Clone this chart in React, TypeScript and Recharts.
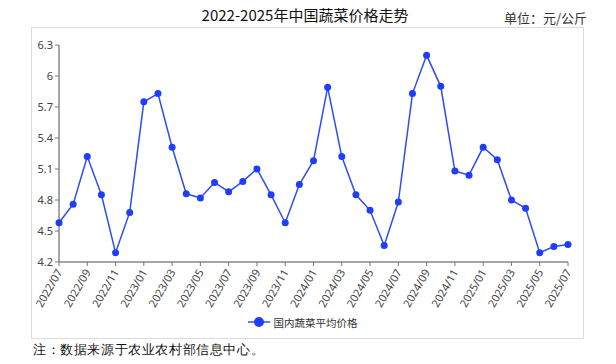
import { LineChart, Line, XAxis, YAxis, Legend } from "recharts";

// 月份（2022/07 - 2025/07）
const months = [
  "2022/07", "2022/08", "2022/09", "2022/10", "2022/11", "2022/12",
  "2023/01", "2023/02", "2023/03", "2023/04", "2023/05", "2023/06",
  "2023/07", "2023/08", "2023/09", "2023/10", "2023/11", "2023/12",
  "2024/01", "2024/02", "2024/03", "2024/04", "2024/05", "2024/06",
  "2024/07", "2024/08", "2024/09", "2024/10", "2024/11", "2024/12",
  "2025/01", "2025/02", "2025/03", "2025/04", "2025/05", "2025/06",
  "2025/07",
];

// 国内蔬菜平均价格（元/公斤）
const prices = [
  4.58, 4.76, 5.22, 4.85, 4.29, 4.68,
  5.75, 5.83, 5.31, 4.86, 4.82, 4.97,
  4.88, 4.98, 5.1, 4.85, 4.58, 4.95,
  5.18, 5.89, 5.22, 4.85, 4.7, 4.36,
  4.78, 5.83, 6.2, 5.9, 5.08, 5.04,
  5.31, 5.19, 4.8, 4.72, 4.29, 4.35,
  4.37,
];

const yTicks = [4.2, 4.5, 4.8, 5.1, 5.4, 5.7, 6, 6.3];

const seriesName = "国内蔬菜平均价格";
const LINE = "#2e4cf6";
const DOT = "#1f3dff";

const data = months.map((m, i) => ({ month: m, price: prices[i] }));

const XTick = ({ x, y, payload }: any) => (
  <g transform={`translate(${x},${y + 3})`}>
    <text
      x={0}
      y={0}
      dx={1}
      dy="0.35em"
      textAnchor="end"
      transform="rotate(-60)"
      fontSize={11}
      fill="#444"
      fontFamily="'Noto Sans', sans-serif"
    >
      {payload.value}
    </text>
  </g>
);

const LegendContent = () => (
  <div style={{ display: "flex", justifyContent: "center", alignItems: "center", height: 20, paddingLeft: 8 }}>
    <svg width={22} height={12} style={{ marginRight: 4 }}>
      <line x1={0} y1={6} x2={22} y2={6} stroke={LINE} strokeWidth={1.5} />
      <circle cx={11} cy={6} r={5} fill={DOT} />
    </svg>
    <span style={{ fontSize: 10.5, color: "#333", fontFamily: "'Noto Sans CJK SC', sans-serif" }}>
      {seriesName}
    </span>
  </div>
);

export default function App() {
  return (
    <div
      style={{
        position: "absolute",
        left: 0,
        top: 0,
        width: 616,
        height: 364,
        background: "#fff",
        fontFamily: "'Noto Sans CJK SC', sans-serif",
      }}
    >
      <div
        style={{
          position: "absolute",
          left: 0,
          width: 610,
          top: 4,
          textAlign: "center",
          fontSize: 15,
          color: "#111",
        }}
      >
        2022-2025年中国蔬菜价格走势
      </div>
      <div style={{ position: "absolute", right: 29, top: 8, fontSize: 13, color: "#333" }}>
        单位：元/公斤
      </div>
      <div
        style={{
          position: "absolute",
          left: 31,
          top: 27,
          width: 551,
          height: 310,
          border: "1px solid #dcdcdc",
        }}
      />
      <div style={{ position: "absolute", left: 0, top: 0 }}>
        <LineChart
          width={616}
          height={364}
          data={data}
          margin={{ top: 45, right: 48, left: 29, bottom: 32 }}
        >
          <XAxis
            dataKey="month"
            interval={1}
            tick={<XTick />}
            tickLine={{ stroke: "#777" }}
            axisLine={{ stroke: "#888", strokeWidth: 1.5 }}
            tickSize={4}
            height={50}
            padding={{ left: 0, right: 0 }}
          />
          <YAxis
            domain={[4.2, 6.3]}
            ticks={yTicks}
            width={30}
            tickSize={4}
            tick={{ fontSize: 11, fill: "#444", fontFamily: "'Noto Sans', sans-serif" }}
            tickLine={{ stroke: "#777" }}
            axisLine={{ stroke: "#888", strokeWidth: 1.5 }}
            allowDataOverflow
          />
          <Legend verticalAlign="bottom" content={<LegendContent />} />
          <Line
            type="linear"
            dataKey="price"
            name={seriesName}
            stroke={LINE}
            strokeWidth={1.5}
            dot={{ r: 3.5, fill: DOT, stroke: DOT, strokeWidth: 0 }}
            activeDot={false}
            isAnimationActive={false}
          />
        </LineChart>
      </div>
      <div
        style={{
          position: "absolute",
          left: 33,
          top: 341,
          fontSize: 13,
          letterSpacing: 0.6,
          color: "#111",
          fontFamily: "serif",
        }}
      >
        注：数据来源于农业农村部信息中心。
      </div>
    </div>
  );
}
